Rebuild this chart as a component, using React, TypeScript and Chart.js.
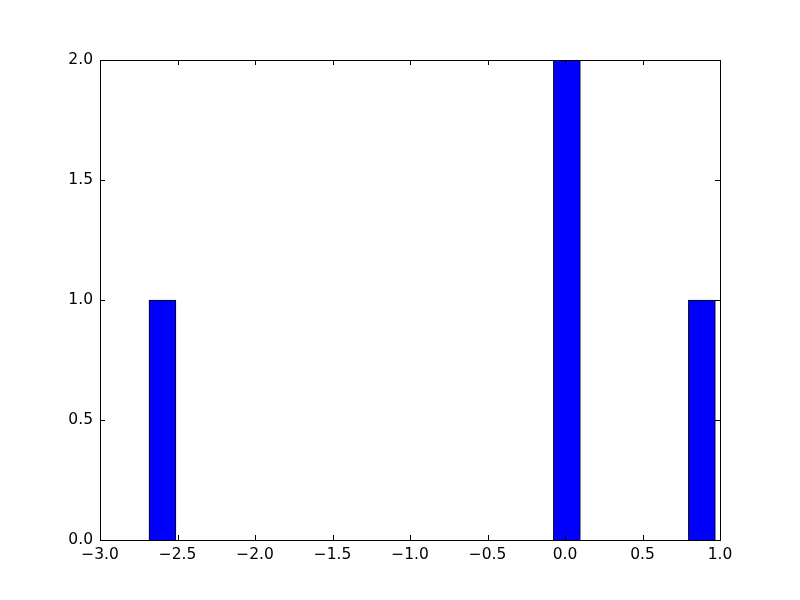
import React, { useEffect, useRef } from "react";
import { Chart, registerables } from "chart.js";

Chart.register(...registerables);

const binCenters = [-2.597, 0.012, 0.883];
const counts = [1, 2, 1];
const binWidth = 0.174;
const xTicks = [-3.0, -2.5, -2.0, -1.5, -1.0, -0.5, 0.0, 0.5, 1.0];
const yTicks = [0.0, 0.5, 1.0, 1.5, 2.0];

const fmt = (v: number) => v.toFixed(1).replace("-", "\u2212");

const framePlugin = {
  id: "frame",
  afterDraw(chart: any) {
    const { ctx, chartArea: a, scales } = chart;
    const tl = 5;
    ctx.save();
    ctx.strokeStyle = "#000";
    ctx.lineWidth = 1;
    ctx.beginPath();
    for (const v of xTicks) {
      const px = Math.round(scales.x.getPixelForValue(v)) + 0.5;
      ctx.moveTo(px, a.bottom);
      ctx.lineTo(px, a.bottom - tl);
      ctx.moveTo(px, a.top);
      ctx.lineTo(px, a.top + tl);
    }
    for (const v of yTicks) {
      const py = Math.round(scales.y.getPixelForValue(v)) + 0.5;
      ctx.moveTo(a.left, py);
      ctx.lineTo(a.left + tl, py);
      ctx.moveTo(a.right, py);
      ctx.lineTo(a.right - tl, py);
    }
    ctx.stroke();
    ctx.strokeRect(Math.round(a.left) + 0.5, Math.round(a.top) + 0.5, Math.round(a.right - a.left), Math.round(a.bottom - a.top));
    ctx.restore();
  },
};

export default function App() {
  const ref = useRef<HTMLCanvasElement>(null);
  useEffect(() => {
    document.body.style.margin = "0";
    const plotWidth = 620;
    const chart = new Chart(ref.current!, {
      type: "bar",
      data: {
        datasets: [
          {
            data: binCenters.map((x, i) => ({ x, y: counts[i] })),
            backgroundColor: "#0000ff",
            borderColor: "#000000",
            borderWidth: 1,
            borderSkipped: "start",
            barThickness: (binWidth * plotWidth) / (xTicks[xTicks.length - 1] - xTicks[0]),
          } as any,
        ],
      },
      options: {
        animation: false,
        responsive: false,
        layout: { padding: { left: 0, top: 60, right: 80, bottom: 0 } },
        plugins: { legend: { display: false }, tooltip: { enabled: false } },
        scales: {
          x: {
            type: "linear",
            min: xTicks[0],
            max: xTicks[xTicks.length - 1],
            offset: false,
            grid: { display: false, drawTicks: false },
            border: { display: false },
            afterFit: (s: any) => { s.height = 60; },
            afterBuildTicks: (s: any) => { s.ticks = xTicks.map((v) => ({ value: v })); },
            ticks: {
              padding: 6,
              color: "#000",
              font: { family: "DejaVu Sans", size: 15.5 },
              callback: (v: any) => fmt(Number(v)),
              maxRotation: 0,
              autoSkip: false,
            },
          },
          y: {
            type: "linear",
            min: yTicks[0],
            max: yTicks[yTicks.length - 1],
            grid: { display: false, drawTicks: false },
            border: { display: false },
            afterFit: (s: any) => { s.width = 100; },
            afterBuildTicks: (s: any) => { s.ticks = yTicks.map((v) => ({ value: v })); },
            ticks: {
              padding: 7,
              color: "#000",
              font: { family: "DejaVu Sans", size: 15.5 },
              callback: (v: any) => fmt(Number(v)),
            },
          },
        },
      },
      plugins: [framePlugin],
    });
    return () => chart.destroy();
  }, []);
  return <canvas ref={ref} width={800} height={600} style={{ display: "block" }} />;
}
